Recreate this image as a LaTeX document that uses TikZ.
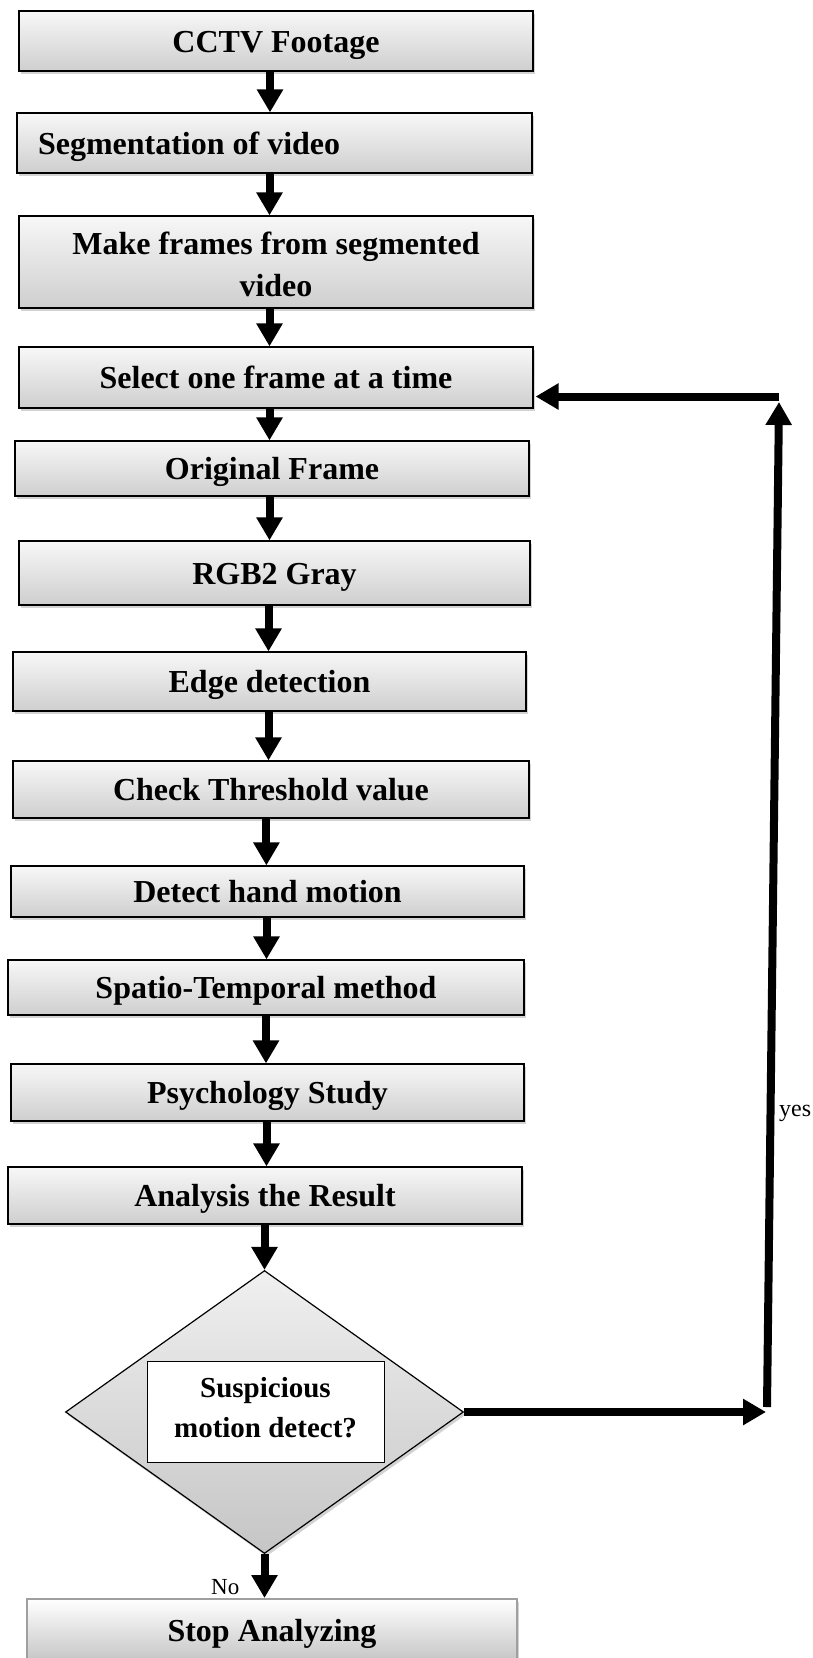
\documentclass[tikz,border=0pt]{standalone}
\usepackage{fontspec}
\setmainfont{Liberation Serif}
\usetikzlibrary{arrows.meta,shapes.geometric,shadows,calc}
\newcommand\flowarrow[3]{\draw[arr] ([xshift=#3]#1.south) -- ([xshift=#3]#1.south |- #2.north);}
\begin{document}
\begin{tikzpicture}[x=1pt,y=-1pt,
  box/.style={draw=black, line width=1.2pt, top color=gray!6, bottom color=gray!38,
    drop shadow={opacity=0.35, shadow xshift=2pt, shadow yshift=-3pt},
    font=\fontsize{32}{42}\selectfont\bfseries, align=center, inner sep=0pt,
    text height=22pt, text depth=0pt},
  arr/.style={line width=8pt, -{Triangle[length=23pt,width=25pt]}},
  lbl/.style={font=\fontsize{24}{24}\selectfont, inner sep=0pt},
]
\useasboundingbox (0,0) rectangle (813,1658);
\clip (0,0) rectangle (813,1658);

\node[box, minimum width=514pt, minimum height=60pt] (cctv) at (276,41) {CCTV Footage};
\node[box, minimum width=515pt, minimum height=60pt, text width=473pt, align=flush left, inner xsep=21pt] (seg) at (274.5,143) {Segmentation of video};
\node[box, minimum width=514pt, minimum height=92pt, text height=68pt] (make) at (276,262) {Make frames from segmented\\video};
\node[box, minimum width=514pt, minimum height=61pt] (sel) at (276,377.5) {Select one frame at a time};
\node[box, minimum width=514pt, minimum height=55pt] (orig) at (272,468.5) {Original Frame};
\node[box, minimum width=511pt, minimum height=64pt] (rgb) at (274.5,573) {RGB2 Gray};
\node[box, minimum width=513pt, minimum height=59pt] (edge) at (269.5,681.5) {Edge detection};
\node[box, minimum width=516pt, minimum height=57pt] (thr) at (271,789.5) {Check Threshold value};
\node[box, minimum width=513pt, minimum height=51pt] (hand) at (267.5,891.5) {Detect hand motion};
\node[box, minimum width=516pt, minimum height=55pt] (st) at (266,987.5) {Spatio-Temporal method};
\node[box, minimum width=513pt, minimum height=57pt] (psy) at (267.5,1092.5) {Psychology Study};
\node[box, minimum width=514pt, minimum height=57pt] (ana) at (265,1195.5) {Analysis the Result};

\node[box, diamond, minimum width=398pt, minimum height=283pt, top color=gray!12, bottom color=gray!45] (dec) at (264.5,1412) {};
\node[draw=black, line width=0.8pt, fill=white, minimum width=237pt, minimum height=101pt, inner sep=0pt,
  align=center, font=\fontsize{29}{40}\selectfont\bfseries, text height=52pt, text depth=0pt] (q) at (265.5,1411.5) {Suspicious\\motion detect?};

\node[box, draw=gray!75, line width=2pt, top color=white, bottom color=gray!45,
  minimum width=490pt, minimum height=62pt] (stop) at (272,1630) {Stop Analyzing};

\flowarrow{cctv}{seg}{-6pt}
\flowarrow{seg}{make}{-5pt}
\flowarrow{make}{sel}{-6.5pt}
\flowarrow{sel}{orig}{-6.5pt}
\flowarrow{orig}{rgb}{-2.5pt}
\flowarrow{rgb}{edge}{-6pt}
\flowarrow{edge}{thr}{-1pt}
\flowarrow{thr}{hand}{-4.6pt}
\flowarrow{hand}{st}{-1pt}
\flowarrow{st}{psy}{0pt}
\flowarrow{psy}{ana}{-1pt}
\draw[arr] (dec.north |- ana.south) -- (dec.north);
\draw[arr] (dec.south) -- (dec.south |- stop.north);

\coordinate (r1) at (766,1412);
\coordinate (v0) at (767,1407);
\coordinate (v1) at (779,402);
\coordinate (h0) at (779,396.5);
\draw[arr] (dec.east) -- (r1);
\draw[arr] (v0) -- (v1);
\draw[arr] (h0) -- ([xshift=2pt]sel.east |- h0);

\node[lbl, anchor=base west] (yes) at (779,1116) {yes};
\node[lbl, font=\fontsize{23}{23}\selectfont, anchor=base west] (no) at (211,1594) {No};
\end{tikzpicture}
\end{document}
